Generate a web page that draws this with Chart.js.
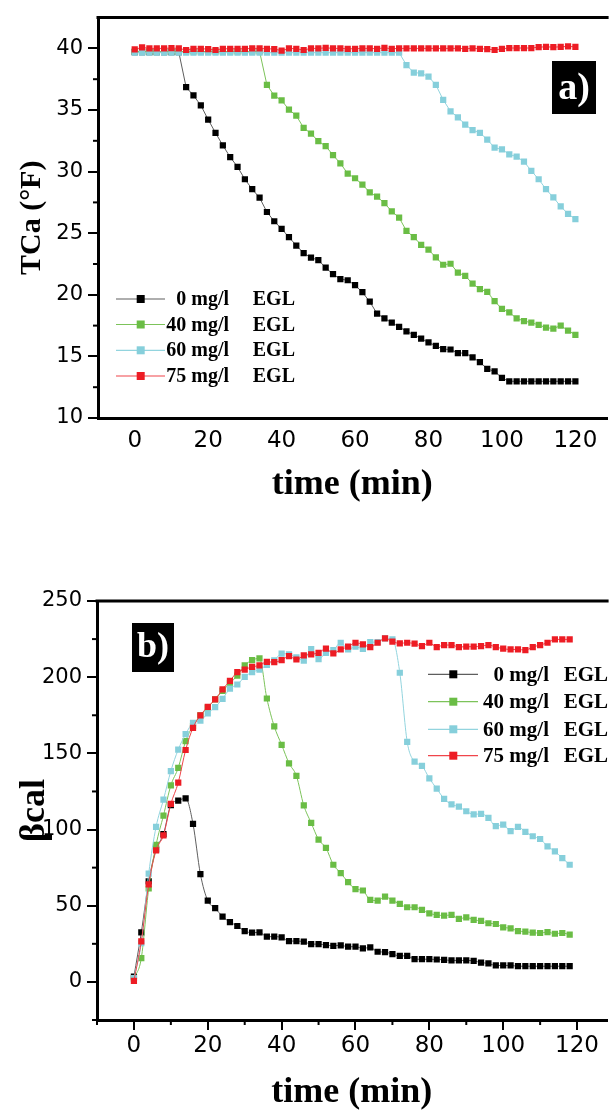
<!DOCTYPE html>
<html><head><meta charset="utf-8">
<script src="https://cdn.jsdelivr.net/npm/chart.js@4.4.1/dist/chart.umd.min.js"></script>
<style>
html,body{margin:0;padding:0;background:#fff;overflow:hidden;width:611px;height:1111px;}
#ca{position:absolute;left:0;top:0;}
#cb{position:absolute;left:0;top:530px;}
</style></head><body>
<canvas id="ca" width="611" height="530"></canvas>
<canvas id="cb" width="611" height="600"></canvas>
<script>
// ---------- data ----------
const seriesLabels = ['0 mg/l  EGL', '40 mg/l  EGL', '60 mg/l  EGL', '75 mg/l  EGL'];

const timeA = [0,2,4,6,8,10,12,14,16,18,20,22,24,26,28,30,32,34,36,38,40,42,44,46,48,50,52,54,56,58,60,62,64,66,68,70,72,74,76,78,80,82,84,86,88,90,92,94,96,98,100,102,104,106,108,110,112,114,116,118,120];

const tcaEgl0 = [39.7,39.7,39.7,39.7,39.7,39.7,39.7,
  36.85,36.18,35.38,34.22,33.15,32.12,31.18,30.38,29.38,28.57,27.88,
  26.72,25.97,25.35,24.68,24.0,23.39,23.01,22.82,22.2,21.67,
  21.27,21.18,20.78,20.21,19.44,18.47,18.09,17.74,17.4,17.04,
  16.75,16.45,16.13,15.86,15.59,15.56,15.27,15.27,14.92,14.54,
  13.98,13.79,13.25,
  12.98,12.98,12.98,12.98,12.98,12.98,12.98,12.98,12.98,12.98];

const tcaEgl40 = [39.75,39.75,39.75,39.75,39.75,39.75,39.75,39.75,39.75,39.75,39.75,39.75,39.75,39.75,39.75,39.75,39.75,39.75,
  37.04,36.16,35.78,35.03,34.54,33.55,33.09,32.47,32.07,31.34,
  30.67,29.84,29.46,28.95,28.31,27.96,27.44,26.77,26.26,25.19,
  24.68,24.06,23.66,23.04,22.44,22.52,21.8,21.53,20.91,20.46,
  20.24,19.49,18.85,18.57,18.09,17.87,17.74,17.55,17.34,17.26,
  17.5,17.1,16.75];

const tcaEgl60 = [39.65,39.65,39.65,39.65,39.65,39.65,39.65,39.65,39.65,39.65,39.65,39.65,39.65,39.65,39.65,39.65,39.65,39.65,39.65,
  39.65,39.65,39.65,39.65,39.65,39.65,39.65,39.65,39.65,39.65,39.65,39.65,39.65,39.65,39.65,39.65,39.65,39.65,
  38.65,38.04,37.98,37.71,37.04,35.83,34.89,34.41,33.82,33.36,
  33.15,32.6,31.94,31.8,31.4,31.21,30.81,30.06,29.38,28.57,
  27.9,27.18,26.56,26.15];

const tcaEgl75 = [39.92,40.08,40.0,40.0,40.0,40.03,40.0,39.87,39.97,39.97,
  39.95,39.87,39.97,39.97,39.97,39.97,40.0,40.0,39.97,39.95,
  39.82,40.0,39.97,39.87,40.0,40.0,40.05,40.0,40.0,39.97,
  39.97,40.0,40.0,39.97,40.05,39.97,40.0,40.0,40.0,40.0,
  40.0,40.0,40.0,40.0,40.0,39.97,40.0,39.97,39.95,39.87,
  39.97,40.03,40.03,40.03,40.03,40.1,40.13,40.1,40.13,40.16,
  40.13];

const timeB = [0,2,4,6,8,10,12,14,16,18,20,22,24,26,28,30,32,34,36,38,40,42,44,46,48,50,52,54,56,58,60,62,64,66,68,70,72,74,76,78,80,82,84,86,88,90,92,94,96,98,100,102,104,106,108,110,112,114,116,118];

const bcalEgl0 = [3.5,32.5,66,87,97,116,119,120.5,103.7,70.8,
  53.3,48.4,42.9,39.3,36.7,33.4,32.3,32.5,29.7,29.7,
  29.2,26.8,26.8,26.4,24.8,24.8,24.2,23.7,24.0,23.1,
  23.1,22.0,22.6,19.8,19.6,18.2,17.1,17.1,14.9,14.9,
  14.9,14.7,14.5,14.1,14.1,14.1,13.8,12.7,12.1,10.8,
  10.8,10.8,10.3,10.3,10.3,10.3,10.3,10.3,10.3,10.3];

const bcalEgl40 = [2.2,15.6,61.3,90,109.2,129,140.5,158,168,175,
  180,185.5,191,196,201,207.7,211.2,212.3,186,167.7,
  155.6,143.5,135.2,115.8,104.4,93.4,87.9,76.9,71.4,65.5,
  60.9,60,53.8,53.4,56,53.4,51.2,49,49,47.3,
  45,44,43.5,44,41.3,42.4,40.7,40,38.5,38,
  35.8,35.2,33.4,33,32.3,32.1,32.7,31.6,32.1,31];

const bcalEgl60 = [2.5,25.4,71,101.8,119.6,138.4,152.5,162.6,170,171.5,
  176.3,180.4,185.8,192.5,195.2,200.2,203.3,205,208,211,
  215.5,215,213,210.8,218.5,211.8,216,217.8,222.6,218.2,
  220,218.6,223,223,225.4,224.8,202.9,157.6,144.6,141.8,
  133.6,126.8,120.2,116.5,115,112,110,110.3,107.7,102.2,
  103.3,98.9,101.8,98.5,95.6,93.8,89,85.7,81.3,76.9];

const bcalEgl75 = [0.7,26.6,64,86.4,96.2,116.8,130.8,152.2,166.8,175,
  180.5,185.5,192,197.6,203.3,205,206.8,207.7,210.1,209.9,
  211.2,213.8,211.6,214.3,215,216,218.7,215.6,218.2,220,
  222.6,221.5,219.8,222.6,225.5,223.3,222.2,222.6,222,220.4,
  222.6,219.8,221.1,221.1,219.8,220,220,220.4,221.1,219.8,
  218.7,218.2,218.2,217.8,219.8,221.1,222.6,224.8,224.8,224.8];

const xTickValues = [0,20,40,60,80,100,120];
const xMinorB = [-10,10,30,50,70,90,110];
const yTicksA = [10,15,20,25,30,35,40];
const yMinorA = [12.5,17.5,22.5,27.5,32.5,37.5];
const yTicksB = [0,50,100,150,200,250];
const yMinorB = [-25,25,75,125,175,225];

// ---------- styles ----------
const markerColors = ['#000000', '#6abd45', '#86cfdb', '#ed1c24'];
const lineColors   = ['#5e5e5e', '#7cc35a', '#92d4de', '#f0454b'];
const SANS = '"DejaVu Sans", "Liberation Sans", sans-serif';
const SERIF = '"Liberation Serif", "Times New Roman", serif';

function makeDataset(i, xs, ys, smooth) {
  return {
    label: seriesLabels[i],
    data: xs.map((x, k) => ({x: x, y: ys[k]})),
    borderColor: lineColors[i],
    backgroundColor: markerColors[i],
    pointBackgroundColor: markerColors[i],
    pointBorderWidth: 0,
    pointStyle: 'rect',
    pointRadius: 4.4,
    borderWidth: 1,
    tension: 0,
    cubicInterpolationMode: smooth ? 'monotone' : 'default',
    order: 4 - i
  };
}

const deco = {
  id: 'deco',
  afterDraw(chart, args, o) {
    const ctx = chart.ctx, a = chart.chartArea, xs = chart.scales.x, ys = chart.scales.y;
    ctx.save();
    ctx.strokeStyle = '#000';
    ctx.lineWidth = 3;
    ctx.beginPath(); ctx.moveTo(a.left - 1.5, a.top); ctx.lineTo(a.right + 2, a.top); ctx.stroke();
    ctx.lineWidth = 2;
    (o.minorY || []).forEach(v => {
      const p = ys.getPixelForValue(v);
      ctx.beginPath(); ctx.moveTo(a.left - 5, p); ctx.lineTo(a.left, p); ctx.stroke();
    });
    (o.minorX || []).forEach(v => {
      const p = xs.getPixelForValue(v);
      ctx.beginPath(); ctx.moveTo(p, a.bottom); ctx.lineTo(p, a.bottom + 5); ctx.stroke();
    });
    const t = o.tag;
    ctx.fillStyle = '#000';
    ctx.fillRect(t.x, t.y, t.w, t.h);
    ctx.fillStyle = '#fff';
    ctx.font = 'bold ' + t.size + 'px ' + SERIF;
    ctx.textAlign = 'center'; ctx.textBaseline = 'middle';
    ctx.fillText(t.text, t.x + t.w / 2, t.ty);
    const L = o.legend;
    chart.data.datasets.forEach((d, i) => {
      const yy = L.rows[i];
      ctx.strokeStyle = d.borderColor; ctx.lineWidth = 1.2;
      ctx.beginPath(); ctx.moveTo(L.x0, yy); ctx.lineTo(L.x1, yy); ctx.stroke();
      ctx.fillStyle = d.pointBackgroundColor;
      ctx.fillRect(L.mx - L.ms / 2, yy - L.ms / 2, L.ms, L.ms);
      const parts = d.label.split('  ');
      ctx.fillStyle = '#000';
      ctx.font = 'bold ' + L.size + 'px ' + SERIF;
      ctx.textAlign = 'right'; ctx.textBaseline = 'middle';
      ctx.fillText(parts[0], L.t1, yy + 1);
      ctx.fillText(parts[1], L.t2, yy + 1);
    });
    ctx.restore();
  }
};

function xScale(max, drawTicks, pad, titlePad, height) {
  return {
    type: 'linear', min: -10, max: max,
    afterBuildTicks: s => { s.ticks = xTickValues.map(v => ({value: v})); },
    afterFit: s => { s.height = height; },
    ticks: {color: '#000', font: {family: SANS, size: 23}, padding: pad, maxRotation: 0, autoSkip: false},
    grid: {display: true, drawOnChartArea: false, drawTicks: drawTicks, tickLength: 10, color: '#000', lineWidth: 2},
    border: {display: true, color: '#000', width: 3},
    title: {display: true, text: 'time (min)', color: '#000',
      font: {family: SERIF, size: 36, weight: 'bold'}, padding: {top: 0, bottom: titlePad}}
  };
}
function yScale(min, max, ticks, width, title, tsize, tpad) {
  return {
    type: 'linear', min: min, max: max,
    afterBuildTicks: s => { s.ticks = ticks.map(v => ({value: v})); },
    afterFit: s => { s.width = width; },
    ticks: {color: '#000', font: {family: SANS, size: 21}, padding: 5, autoSkip: false},
    grid: {display: true, drawOnChartArea: false, drawTicks: true, tickLength: 10, color: '#000', lineWidth: 2},
    border: {display: true, color: '#000', width: 3},
    title: {display: true, text: title, color: '#000',
      font: {family: SERIF, size: tsize, weight: 'bold'}, padding: {top: tpad, bottom: 0}}
  };
}

new Chart(document.getElementById('ca'), {
  type: 'line',
  data: {datasets: [
    makeDataset(0, timeA, tcaEgl0, false),
    makeDataset(1, timeA, tcaEgl40, false),
    makeDataset(2, timeA, tcaEgl60, false),
    makeDataset(3, timeA, tcaEgl75, false)
  ]},
  options: {
    responsive: false, animation: false, events: [],
    layout: {padding: {top: 14, left: 0, right: 0, bottom: 0}},
    plugins: {
      legend: {display: false}, tooltip: {enabled: false},
      deco: {
        minorY: yMinorA, minorX: [],
        tag: {text: 'a)', x: 552, y: 61, w: 44, h: 53, size: 38, ty: 89.5},
        legend: {x0: 116, x1: 165, mx: 140.7, ms: 8, rows: [299, 324.5, 350.3, 376], size: 20, t1: 229, t2: 295}
      }
    },
    scales: {
      x: xScale(128.5, false, 9, 24, 112),
      y: yScale(10, 42.5, yTicksA, 98, 'TCa (°F)', 30, 14)
    }
  },
  plugins: [deco]
});

new Chart(document.getElementById('cb'), {
  type: 'line',
  data: {datasets: [
    makeDataset(0, timeB, bcalEgl0, true),
    makeDataset(1, timeB, bcalEgl40, true),
    makeDataset(2, timeB, bcalEgl60, true),
    makeDataset(3, timeB, bcalEgl75, true)
  ]},
  options: {
    responsive: false, animation: false, events: [],
    layout: {padding: {top: 71, left: 0, right: 0, bottom: 0}},
    plugins: {
      legend: {display: false}, tooltip: {enabled: false},
      deco: {
        minorY: yMinorB, minorX: xMinorB,
        tag: {text: 'b)', x: 132, y: 93, w: 42, h: 49, size: 36, ty: 118},
        legend: {x0: 428, x1: 478, mx: 453.3, ms: 8, rows: [144.3, 171.7, 199.3, 225.7], size: 21, t1: 549, t2: 608}
      }
    },
    scales: {
      x: xScale(128, true, 2, 16, 110),
      y: yScale(-25, 250, yTicksB, 97, 'βcal', 36, 13)
    }
  },
  plugins: [deco]
});
</script>
</body></html>
